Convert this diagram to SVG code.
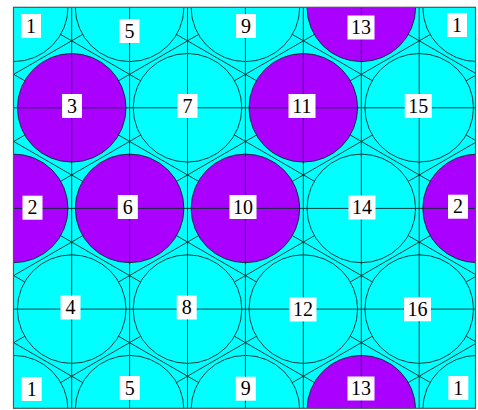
<svg xmlns="http://www.w3.org/2000/svg" width="478" height="410" viewBox="0 0 478 410">
<defs>
<clipPath id="frame"><rect x="13.5" y="7.3" width="462" height="401"/></clipPath>
<style>
.cy{fill:#00FFFF;stroke:#0a2a2a;stroke-width:0.9}
.pu{fill:#AA00FF;stroke:#0a2a2a;stroke-width:0.9}
.ln{stroke:#0a2a2a;stroke-width:0.9;fill:none}
.lb rect{fill:#fff}
.lb text{font-family:"Liberation Serif","Times New Roman",serif;font-size:20px;fill:#000;text-anchor:middle}
</style>
</defs>
<rect width="478" height="410" fill="#fff"/>
<g clip-path="url(#frame)">
<rect x="13.5" y="7.3" width="462" height="401" fill="#00FFFF"/>
<g id="connectors-diagonal" class="ln">
<line x1="0" y1="-268.91" x2="478" y2="7.72"/>
<line x1="0" y1="-201.84" x2="478" y2="74.79"/>
<line x1="0" y1="-134.77" x2="478" y2="141.86"/>
<line x1="0" y1="-67.70" x2="478" y2="208.93"/>
<line x1="0" y1="-0.63" x2="478" y2="276.00"/>
<line x1="0" y1="66.44" x2="478" y2="343.07"/>
<line x1="0" y1="133.51" x2="478" y2="410.14"/>
<line x1="0" y1="200.58" x2="478" y2="477.21"/>
<line x1="0" y1="267.65" x2="478" y2="544.28"/>
<line x1="0" y1="334.72" x2="478" y2="611.35"/>
<line x1="0" y1="401.79" x2="478" y2="678.42"/>
<line x1="0" y1="15.23" x2="478" y2="-261.44"/>
<line x1="0" y1="82.30" x2="478" y2="-194.37"/>
<line x1="0" y1="149.37" x2="478" y2="-127.30"/>
<line x1="0" y1="216.44" x2="478" y2="-60.23"/>
<line x1="0" y1="283.51" x2="478" y2="6.84"/>
<line x1="0" y1="350.58" x2="478" y2="73.91"/>
<line x1="0" y1="417.65" x2="478" y2="140.98"/>
<line x1="0" y1="484.72" x2="478" y2="208.05"/>
<line x1="0" y1="551.79" x2="478" y2="275.12"/>
<line x1="0" y1="618.86" x2="478" y2="342.19"/>
<line x1="0" y1="685.93" x2="478" y2="409.26"/>
</g>
<g id="pins">
<g id="pin-1a"><circle class="cy" cx="13.7" cy="7.3" r="54.3"/></g>
<g id="pin-5a"><circle class="cy" cx="129.6" cy="7.3" r="54.3"/></g>
<g id="pin-9a"><circle class="cy" cx="245.4" cy="7.3" r="54.3"/></g>
<g id="pin-13a"><circle class="pu" cx="361.3" cy="7.3" r="54.3"/></g>
<g id="pin-1b"><circle class="cy" cx="477.1" cy="7.3" r="54.3"/></g>
<g id="pin-3"><circle class="pu" cx="71.7" cy="107.8" r="54.3"/></g>
<g id="pin-7"><circle class="cy" cx="187.5" cy="107.8" r="54.3"/></g>
<g id="pin-11"><circle class="pu" cx="303.3" cy="107.8" r="54.3"/></g>
<g id="pin-15"><circle class="cy" cx="419.2" cy="107.8" r="54.3"/></g>
<g id="pin-2a"><circle class="pu" cx="13.7" cy="208.4" r="54.3"/></g>
<g id="pin-6"><circle class="pu" cx="129.6" cy="208.4" r="54.3"/></g>
<g id="pin-10"><circle class="pu" cx="245.4" cy="208.4" r="54.3"/></g>
<g id="pin-14"><circle class="cy" cx="361.3" cy="208.4" r="54.3"/></g>
<g id="pin-2b"><circle class="pu" cx="477.1" cy="208.4" r="54.3"/></g>
<g id="pin-4"><circle class="cy" cx="71.7" cy="309.1" r="54.3"/></g>
<g id="pin-8"><circle class="cy" cx="187.5" cy="309.1" r="54.3"/></g>
<g id="pin-12"><circle class="cy" cx="303.3" cy="309.1" r="54.3"/></g>
<g id="pin-16"><circle class="cy" cx="419.2" cy="309.1" r="54.3"/></g>
<g id="pin-1c"><circle class="cy" cx="13.7" cy="409.7" r="54.3"/></g>
<g id="pin-5b"><circle class="cy" cx="129.6" cy="409.7" r="54.3"/></g>
<g id="pin-9b"><circle class="cy" cx="245.4" cy="409.7" r="54.3"/></g>
<g id="pin-13b"><circle class="pu" cx="361.3" cy="409.7" r="54.3"/></g>
<g id="pin-1d"><circle class="cy" cx="477.1" cy="409.7" r="54.3"/></g>
</g>
<g id="connectors-grid" class="ln">
<line x1="71.7" y1="0" x2="71.7" y2="410"/>
<line x1="129.6" y1="0" x2="129.6" y2="410"/>
<line x1="187.5" y1="0" x2="187.5" y2="410"/>
<line x1="245.4" y1="0" x2="245.4" y2="410"/>
<line x1="303.3" y1="0" x2="303.3" y2="410"/>
<line x1="361.3" y1="0" x2="361.3" y2="410"/>
<line x1="419.2" y1="0" x2="419.2" y2="410"/>
<line x1="0" y1="107.8" x2="478" y2="107.8"/>
<line x1="0" y1="208.4" x2="478" y2="208.4"/>
<line x1="0" y1="309.1" x2="478" y2="309.1"/>
</g>
</g>
<rect x="13.5" y="7.3" width="462" height="401" fill="none" stroke="#555" stroke-width="1.2"/>
<g id="labels" class="lb">
<g id="label-1a"><rect x="21" y="14" width="20" height="24"/><text x="31" y="32.7">1</text></g>
<g id="label-5a"><rect x="119.5" y="19" width="20" height="24"/><text x="129.5" y="37.7">5</text></g>
<g id="label-9a"><rect x="236" y="14" width="20" height="24"/><text x="246" y="32.7">9</text></g>
<g id="label-13a"><rect x="347.5" y="15.5" width="27" height="24"/><text x="361" y="34.2">13</text></g>
<g id="label-1b"><rect x="447" y="13" width="20" height="24"/><text x="457" y="31.7">1</text></g>
<g id="label-3"><rect x="62" y="94" width="20" height="24"/><text x="72" y="112.7">3</text></g>
<g id="label-7"><rect x="177.5" y="94" width="20" height="24"/><text x="187.5" y="112.7">7</text></g>
<g id="label-11"><rect x="288.5" y="94" width="27" height="24"/><text x="302" y="112.7">11</text></g>
<g id="label-15"><rect x="404.8" y="94" width="27" height="24"/><text x="418.3" y="112.7">15</text></g>
<g id="label-2a"><rect x="22.5" y="195.7" width="20" height="24"/><text x="32.5" y="214.4">2</text></g>
<g id="label-6"><rect x="117.8" y="195" width="20" height="24"/><text x="127.8" y="213.7">6</text></g>
<g id="label-10"><rect x="229.5" y="195" width="27" height="24"/><text x="243" y="213.7">10</text></g>
<g id="label-14"><rect x="348.5" y="195.5" width="27" height="24"/><text x="362" y="214.2">14</text></g>
<g id="label-2b"><rect x="448" y="194.7" width="20" height="24"/><text x="458" y="213.4">2</text></g>
<g id="label-4"><rect x="60.5" y="295.5" width="20" height="24"/><text x="70.5" y="314.2">4</text></g>
<g id="label-8"><rect x="176.7" y="295.5" width="20" height="24"/><text x="186.7" y="314.2">8</text></g>
<g id="label-12"><rect x="289.5" y="297.5" width="27" height="24"/><text x="303" y="316.2">12</text></g>
<g id="label-16"><rect x="404" y="297.3" width="27" height="24"/><text x="417.5" y="316">16</text></g>
<g id="label-1c"><rect x="21.7" y="377" width="20" height="24"/><text x="31.7" y="395.7">1</text></g>
<g id="label-5b"><rect x="119.8" y="376" width="20" height="24"/><text x="129.8" y="394.7">5</text></g>
<g id="label-9b"><rect x="235.8" y="376.7" width="20" height="24"/><text x="245.8" y="395.4">9</text></g>
<g id="label-13b"><rect x="347.5" y="376.5" width="27" height="24"/><text x="361" y="395.2">13</text></g>
<g id="label-1d"><rect x="448.3" y="376" width="20" height="24"/><text x="458.3" y="394.7">1</text></g>
</g>
</svg>
